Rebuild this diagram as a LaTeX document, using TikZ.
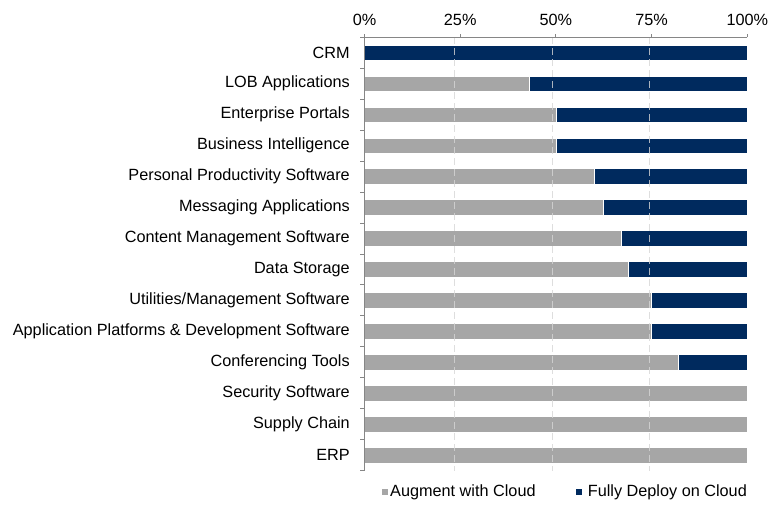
\documentclass[tikz,border=0pt]{standalone}
\usepackage{fontspec}
\setmainfont{Liberation Sans}
\definecolor{barGray}{RGB}{166,166,166}
\definecolor{barNavy}{RGB}{0,42,94}
\definecolor{gridGray}{RGB}{214,214,214}
\definecolor{axisGray}{RGB}{134,134,134}

\begin{document}
\begin{tikzpicture}[x=1pt, y=-1pt, font=\fontsize{16.25}{19}\selectfont,
    aug/.style={fill=barGray, draw=white, line width=0.8pt},
    full/.style={fill=barNavy, draw=white, line width=0.8pt},
    axisline/.style={draw=axisGray, line width=1pt},
    gridline/.style={draw=gridGray, line width=1.4pt, opacity=0.8, dash pattern=on 7pt off 4pt},
    catlabel/.style={anchor=east, inner sep=0pt},
    pctlabel/.style={inner sep=0pt},
    legendbox/.style={minimum size=6pt, inner sep=0pt}]
    \useasboundingbox (0,0) rectangle (777,504);
    \begin{scope}[xshift=364.5pt, yshift=-37.3pt, x=3.828pt, y=-30.96pt]
        % bars
        \draw[full] (0,0.25) rectangle (100,0.75);
        \draw[aug] (0,1.25) rectangle (43,1.75);
        \draw[full] (43,1.25) rectangle (100,1.75);
        \draw[aug] (0,2.25) rectangle (50,2.75);
        \draw[full] (50,2.25) rectangle (100,2.75);
        \draw[aug] (0,3.25) rectangle (50,3.75);
        \draw[full] (50,3.25) rectangle (100,3.75);
        \draw[aug] (0,4.25) rectangle (60,4.75);
        \draw[full] (60,4.25) rectangle (100,4.75);
        \draw[aug] (0,5.25) rectangle (62.5,5.75);
        \draw[full] (62.5,5.25) rectangle (100,5.75);
        \draw[aug] (0,6.25) rectangle (67,6.75);
        \draw[full] (67,6.25) rectangle (100,6.75);
        \draw[aug] (0,7.25) rectangle (69,7.75);
        \draw[full] (69,7.25) rectangle (100,7.75);
        \draw[aug] (0,8.25) rectangle (75,8.75);
        \draw[full] (75,8.25) rectangle (100,8.75);
        \draw[aug] (0,9.25) rectangle (75,9.75);
        \draw[full] (75,9.25) rectangle (100,9.75);
        \draw[aug] (0,10.25) rectangle (82,10.75);
        \draw[full] (82,10.25) rectangle (100,10.75);
        \draw[aug] (0,11.25) rectangle (100,11.75);
        \draw[aug] (0,12.25) rectangle (100,12.75);
        \draw[aug] (0,13.25) rectangle (100,13.75);
        % grid
        \draw[gridline] (23.5,0) -- (23.5,14);
        \draw[gridline] (49.1,0) -- (49.1,14);
        \draw[gridline] (74.5,0) -- (74.5,14);
        % axes
        \draw[axisline] (0,0) -- (100,0);
        \draw[axisline] (0,0) -- (0,14);
        \draw[axisline] (0,0) -- (0,-0.1);
        \draw[axisline] (25,0) -- (25,-0.1);
        \draw[axisline] (50,0) -- (50,-0.1);
        \draw[axisline] (75,0) -- (75,-0.1);
        \draw[axisline] (100,0) -- (100,-0.1);
        \draw[axisline] (0,0) -- (-1.3,0);
        \draw[axisline] (0,1) -- (-1.3,1);
        \draw[axisline] (0,2) -- (-1.3,2);
        \draw[axisline] (0,3) -- (-1.3,3);
        \draw[axisline] (0,4) -- (-1.3,4);
        \draw[axisline] (0,5) -- (-1.3,5);
        \draw[axisline] (0,6) -- (-1.3,6);
        \draw[axisline] (0,7) -- (-1.3,7);
        \draw[axisline] (0,8) -- (-1.3,8);
        \draw[axisline] (0,9) -- (-1.3,9);
        \draw[axisline] (0,10) -- (-1.3,10);
        \draw[axisline] (0,11) -- (-1.3,11);
        \draw[axisline] (0,12) -- (-1.3,12);
        \draw[axisline] (0,13) -- (-1.3,13);
        \draw[axisline] (0,14) -- (-1.3,14);
        % percent labels
        \node[pctlabel] (p0) at (0,-0.55) {0\%};
        \node[pctlabel] (p25) at (25,-0.55) {25\%};
        \node[pctlabel] (p50) at (50,-0.55) {50\%};
        \node[pctlabel] (p75) at (75,-0.55) {75\%};
        \node[pctlabel] (p100) at (100,-0.55) {100\%};
        % category labels
        \node[catlabel] (crm) at (-3.8,0.5) {CRM};
        \node[catlabel] (lob) at (-3.8,1.5) {LOB Applications};
        \node[catlabel] (portals) at (-3.8,2.5) {Enterprise Portals};
        \node[catlabel] (bi) at (-3.8,3.5) {Business Intelligence};
        \node[catlabel] (ppsw) at (-3.8,4.5) {Personal Productivity Software};
        \node[catlabel] (msg) at (-3.8,5.5) {Messaging Applications};
        \node[catlabel] (cms) at (-3.8,6.5) {Content Management Software};
        \node[catlabel] (storage) at (-3.8,7.5) {Data Storage};
        \node[catlabel] (util) at (-3.8,8.5) {Utilities/Management Software};
        \node[catlabel] (platf) at (-3.8,9.5) {Application Platforms \& Development Software};
        \node[catlabel] (conf) at (-3.8,10.5) {Conferencing Tools};
        \node[catlabel] (sec) at (-3.8,11.5) {Security Software};
        \node[catlabel] (supply) at (-3.8,12.5) {Supply Chain};
        \node[catlabel] (erp) at (-3.8,13.5) {ERP};
        % legend
        \node[legendbox, fill=barGray] (augkey) at (5.46,14.68) {};
        \node[anchor=west, inner sep=0pt] (augtext) at (6.66,14.68) {Augment with Cloud};
        \node[legendbox, fill=barNavy] (fullkey) at (56.16,14.68) {};
        \node[anchor=west, inner sep=0pt] (fulltext) at (58.3,14.68) {Fully Deploy on Cloud};
    \end{scope}
\end{tikzpicture}
\end{document}
